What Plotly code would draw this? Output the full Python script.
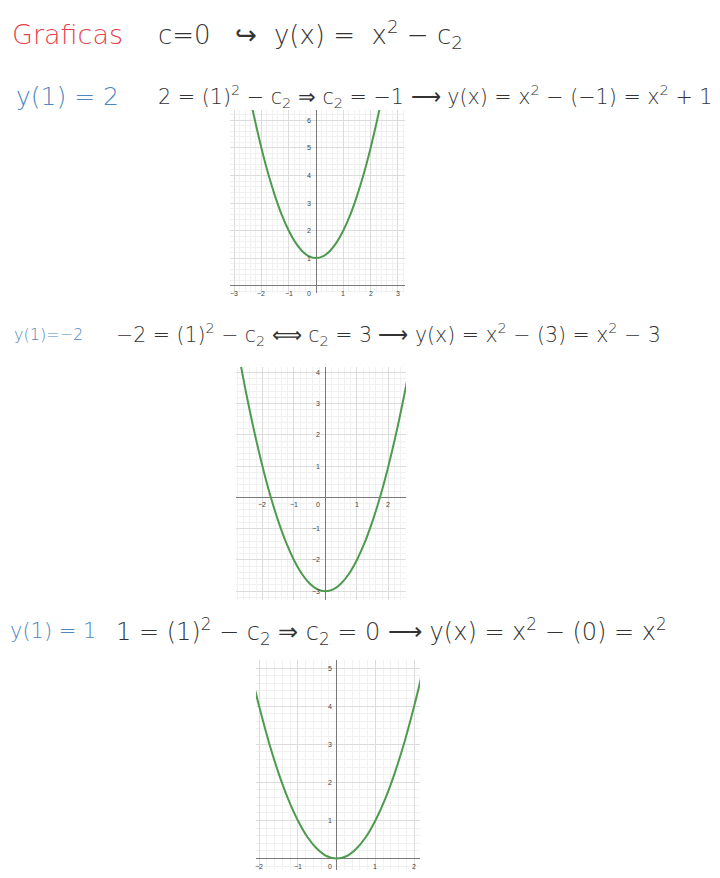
import plotly.graph_objects as go

# ---- data ----
x1 = [-2.4, -2.25, -2.0, -1.75, -1.5, -1.25, -1.0, -0.75, -0.5, -0.25, 0.0,
      0.25, 0.5, 0.75, 1.0, 1.25, 1.5, 1.75, 2.0, 2.25, 2.4]
y1 = [6.76, 6.06, 5.0, 4.06, 3.25, 2.56, 2.0, 1.56, 1.25, 1.06, 1.0,
      1.06, 1.25, 1.56, 2.0, 2.56, 3.25, 4.06, 5.0, 6.06, 6.76]

x2 = [-2.75, -2.5, -2.25, -2.0, -1.75, -1.5, -1.25, -1.0, -0.75, -0.5, -0.25, 0.0,
      0.25, 0.5, 0.75, 1.0, 1.25, 1.5, 1.75, 2.0, 2.25, 2.5, 2.6]
y2 = [4.56, 3.25, 2.06, 1.0, 0.06, -0.75, -1.44, -2.0, -2.44, -2.75, -2.94, -3.0,
      -2.94, -2.75, -2.44, -2.0, -1.44, -0.75, 0.06, 1.0, 2.06, 3.25, 3.76]

x3 = [-2.15, -2.0, -1.75, -1.5, -1.25, -1.0, -0.75, -0.5, -0.25, 0.0,
      0.25, 0.5, 0.75, 1.0, 1.25, 1.5, 1.75, 2.0, 2.2]
y3 = [4.62, 4.0, 3.06, 2.25, 1.56, 1.0, 0.56, 0.25, 0.06, 0.0,
      0.06, 0.25, 0.56, 1.0, 1.56, 2.25, 3.06, 4.0, 4.84]

xt1 = [-3, -2, -1, 0, 1, 2, 3]
yt1 = [1, 2, 3, 4, 5, 6]
xt2 = [-2, -1, 0, 1, 2]
yt2 = [-3, -2, -1, 1, 2, 3, 4]
xt3 = [-2, -1, 0, 1, 2]
yt3 = [1, 2, 3, 4, 5]

notes = [
    ("Graficas", "#e5414d"),
    ("c=0   ↪  y(x) =  x<sup>2</sup> − c<sub>2</sub>", "#333333"),
    ("y(1) = 2", "#4f86bd"),
    ("2 = (1)<sup>2</sup> − c<sub>2</sub> ⇒ c<sub>2</sub> = −1 ⟶ y(x) = x<sup>2</sup> − (−1) = x<sup>2</sup> + 1", "#333333"),
    ("y(1)=−2", "#4f86bd"),
    ("−2 = (1)<sup>2</sup> − c<sub>2</sub> ⟺ c<sub>2</sub> = 3 ⟶ y(x) = x<sup>2</sup> − (3) = x<sup>2</sup> − 3", "#333333"),
    ("y(1) = 1", "#4f86bd"),
    ("1 = (1)<sup>2</sup> − c<sub>2</sub> ⇒ c<sub>2</sub> = 0 ⟶ y(x) = x<sup>2</sup> − (0) = x<sup>2</sup>", "#333333"),
]

OFF = 8  # page body margin
W, H = 720 - OFF, 878 - OFF
green = "#4e9a4e"

def fx(px):
    return (px - OFF) / W

def fy(py):
    return 1 - (py - OFF) / H

fig = go.Figure()
for i, (xs, ys) in enumerate([(x1, y1), (x2, y2), (x3, y3)], start=1):
    fig.add_trace(go.Scatter(x=xs, y=ys, mode="lines", line=dict(color=green, width=2, shape="spline"),
                             xaxis="x" if i == 1 else f"x{i}", yaxis="y" if i == 1 else f"y{i}",
                             showlegend=False, hoverinfo="skip"))

# plot boxes in page pixels (left, right, top, bottom) and ranges
boxes = [
    ((230, 405, 110, 293), (-3.15, 3.26), (-0.27, 6.38)),
    ((236, 406, 367, 600), (-2.84, 2.56), (-3.28, 4.17)),
    ((256, 420, 660, 870), (-2.08, 2.15), (-0.30, 5.21)),
]

def ax(domain, rng, anchor):
    return dict(domain=domain, range=list(rng), anchor=anchor, showticklabels=False, ticks="",
                showgrid=True, gridcolor="#dcdcdc", gridwidth=1, dtick=1, tick0=0,
                minor=dict(dtick=0.2, tick0=0, showgrid=True, gridcolor="#f1f1f1", gridwidth=1),
                zeroline=True, zerolinecolor="#7a7a7a", zerolinewidth=1, showline=False, fixedrange=True)

layout = {}
for i, ((l, r, t, b), xr, yr) in enumerate(boxes, start=1):
    xn = "xaxis" if i == 1 else f"xaxis{i}"
    yn = "yaxis" if i == 1 else f"yaxis{i}"
    xa = "x" if i == 1 else f"x{i}"
    ya = "y" if i == 1 else f"y{i}"
    layout[xn] = ax([fx(l), fx(r)], xr, ya)
    layout[yn] = ax([fy(b), fy(t)], yr, xa)

annotations = []
tickfont = dict(family="Liberation Sans", size=7, color="#444444")
for i, (xt, yt) in enumerate([(xt1, yt1), (xt2, yt2), (xt3, yt3)], start=1):
    xa = "x" if i == 1 else f"x{i}"
    ya = "y" if i == 1 else f"y{i}"
    for v in xt:
        annotations.append(dict(x=v, y=0, xref=xa, yref=ya, text=str(v) if v >= 0 else "−" + str(-v),
                                showarrow=False, font=tickfont, yanchor="top", yshift=-2,
                                xanchor="right" if v == 0 else "center", xshift=-3 if v == 0 else 0))
    for v in yt:
        annotations.append(dict(x=0, y=v, xref=xa, yref=ya, text=str(v) if v >= 0 else "−" + str(-v),
                                showarrow=False, font=tickfont, xanchor="right", xshift=-3, yanchor="middle"))

# handwritten note lines: (x px, y px centre, size)
note_pos = [(10, 35, 27), (156, 35, 26), (14, 96, 25), (156, 96, 20.7),
            (12, 334, 16), (114, 334, 20.5), (8, 631, 21), (114, 631, 24)]
for (txt, col), (px, py, sz) in zip(notes, note_pos):
    annotations.append(dict(x=fx(px), y=fy(py), xref="paper", yref="paper", text=txt,
                            showarrow=False, xanchor="left", yanchor="middle",
                            font=dict(family="DejaVu Sans", size=sz, color=col, weight=300)))

fig.update_layout(width=W, height=H, margin=dict(l=0, r=0, t=0, b=0),
                  paper_bgcolor="white", plot_bgcolor="white", annotations=annotations, **layout)
fig.write_html("out.html")
